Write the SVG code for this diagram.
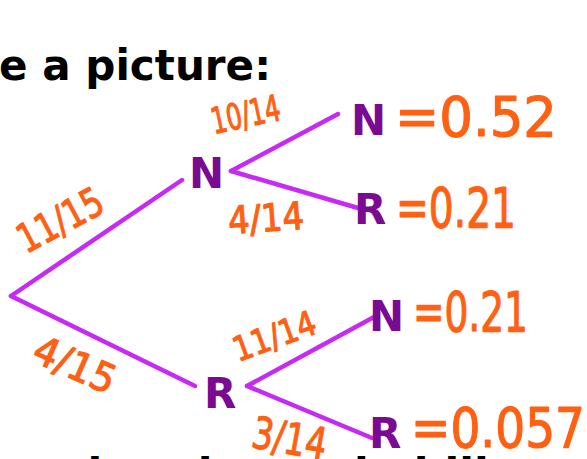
<svg xmlns="http://www.w3.org/2000/svg" width="587" height="459" viewBox="0 0 587 459">
<style>
.head{font-family:"DejaVu Sans","Verdana",sans-serif;font-weight:bold;fill:#000}
.node{font-family:"DejaVu Sans","Verdana",sans-serif;font-weight:bold;font-size:42px;fill:#7a0a92}
.edge{stroke:#c62af5;stroke-width:4.5;fill:none;stroke-linecap:round}
.hand{font-family:"DejaVu Sans",sans-serif;fill:#ff6012;stroke:#ff6012;stroke-width:1.2;stroke-linejoin:round}
</style>
<rect width="587" height="459" fill="#fff"/>
<text class="head" x="-1" y="80" font-size="43" textLength="272" lengthAdjust="spacingAndGlyphs">e a picture:</text>
<text class="head" x="-93" y="489" font-size="43">Determine the probability</text>
<g id="connectors">
<line class="edge" x1="11" y1="296" x2="182" y2="180"/>
<line class="edge" x1="11" y1="296" x2="195" y2="386"/>
<line class="edge" x1="231" y1="171" x2="338" y2="114"/>
<line class="edge" x1="231" y1="171" x2="358" y2="208"/>
<line class="edge" x1="247" y1="386" x2="374" y2="317"/>
<line class="edge" x1="247" y1="386" x2="372" y2="438"/>
</g>
<g id="node-N"><text class="node" x="189" y="188">N</text></g>
<g id="node-R"><text class="node" x="204" y="408">R</text></g>
<g id="node-NN"><text class="node" x="351" y="135">N</text></g>
<g id="node-NR"><text class="node" x="354" y="224">R</text></g>
<g id="node-RN"><text class="node" x="369" y="331">N</text></g>
<g id="node-RR"><text class="node" x="369" y="448">R</text></g>
<g id="labels">
<text class="hand" font-size="36" transform="translate(214,134) rotate(-12)" textLength="70" lengthAdjust="spacingAndGlyphs">10/14</text>
<text class="hand" font-size="38" transform="translate(229,234) rotate(-4)" textLength="76" lengthAdjust="spacingAndGlyphs">4/14</text>
<text class="hand" font-size="40" transform="translate(26,254) rotate(-28)" textLength="92" lengthAdjust="spacingAndGlyphs">11/15</text>
<text class="hand" font-size="40" transform="translate(30,360) rotate(24)" textLength="86" lengthAdjust="spacingAndGlyphs">4/15</text>
<text class="hand" font-size="34" transform="translate(238,362) rotate(-20)" textLength="86" lengthAdjust="spacingAndGlyphs">11/14</text>
<text class="hand" font-size="44" transform="translate(250,447) rotate(10)" textLength="75" lengthAdjust="spacingAndGlyphs">3/14</text>
<text class="hand" font-size="55" x="395" y="136" textLength="162" lengthAdjust="spacingAndGlyphs">=0.52</text>
<text class="hand" font-size="55" x="396" y="227" textLength="120" lengthAdjust="spacingAndGlyphs">=0.21</text>
<text class="hand" font-size="55" x="413" y="331" textLength="115" lengthAdjust="spacingAndGlyphs">=0.21</text>
<text class="hand" font-size="55" x="411" y="447" textLength="174" lengthAdjust="spacingAndGlyphs">=0.057</text>
</g>
</svg>
